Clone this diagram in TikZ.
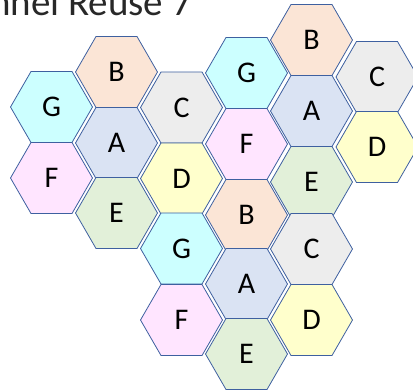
\documentclass[tikz,border=0pt]{standalone}
\usepackage{fontspec}
\setmainfont{Carlito}
\usetikzlibrary{shapes.geometric}
\definecolor{cB}{HTML}{FBE5D6}
\definecolor{cG}{HTML}{CCFFFF}
\definecolor{cC}{HTML}{EDEDED}
\definecolor{cA}{HTML}{DAE3F3}
\definecolor{cF}{HTML}{FFE5FF}
\definecolor{cD}{HTML}{FFFFCC}
\definecolor{cE}{HTML}{E2F0D9}
\definecolor{edge}{RGB}{62,96,160}
\definecolor{ttl}{RGB}{40,40,40}
\tikzset{
  hexcell/.style={regular polygon, regular polygon sides=6,
    minimum size=82pt, inner sep=0pt, outer sep=0pt, draw=edge, line width=0.8pt,
    font=\fontsize{30}{30}\selectfont, text=black},
  hB/.style={hexcell, fill=cB},
  hG/.style={hexcell, fill=cG},
  hC/.style={hexcell, fill=cC},
  hA/.style={hexcell, fill=cA},
  hF/.style={hexcell, fill=cF},
  hD/.style={hexcell, fill=cD},
  hE/.style={hexcell, fill=cE},
  titletext/.style={anchor=base west, inner sep=0pt, text=ttl, font=\fontsize{39}{39}\selectfont}
}
\begin{document}
\begin{tikzpicture}[x=1pt,y=-1pt]
\useasboundingbox (0,0) rectangle (413,389);
\clip (0,0) rectangle (413,389);
\node[titletext] (title) at (-70,15) {Channel Reuse 7};
% column 0
\node[hG] (g1) at (51.5,107) {G};
\node[hF] (f1) at (51.5,178) {F};
% column 1
\node[hB] (b1) at (116.5,72) {B};
\node[hA] (a1) at (116.5,143) {A};
\node[hE] (e1) at (116.5,213) {E};
% column 2
\node[hC] (c1) at (181.5,107.5) {C};
\node[hD] (d1) at (181.5,178.5) {D};
\node[hG] (g2) at (181.5,248.5) {G};
\node[hF] (f2) at (181.5,320) {F};
% column 3
\node[hG] (g3) at (246.5,73) {G};
\node[hF] (f3) at (246.5,144) {F};
\node[hB] (b3) at (246.5,215) {B};
\node[hA] (a3) at (246.5,284) {A};
\node[hE] (e3) at (246.5,354) {E};
% column 4
\node[hB] (b4) at (311.5,40) {B};
\node[hA] (a4) at (311.5,111) {A};
\node[hE] (e4) at (311.5,182) {E};
\node[hC] (c4) at (311.5,249) {C};
\node[hD] (d4) at (311.5,320) {D};
% column 5
\node[hC] (c5) at (377,77) {C};
\node[hD] (d5) at (377,147) {D};
\end{tikzpicture}
\end{document}
